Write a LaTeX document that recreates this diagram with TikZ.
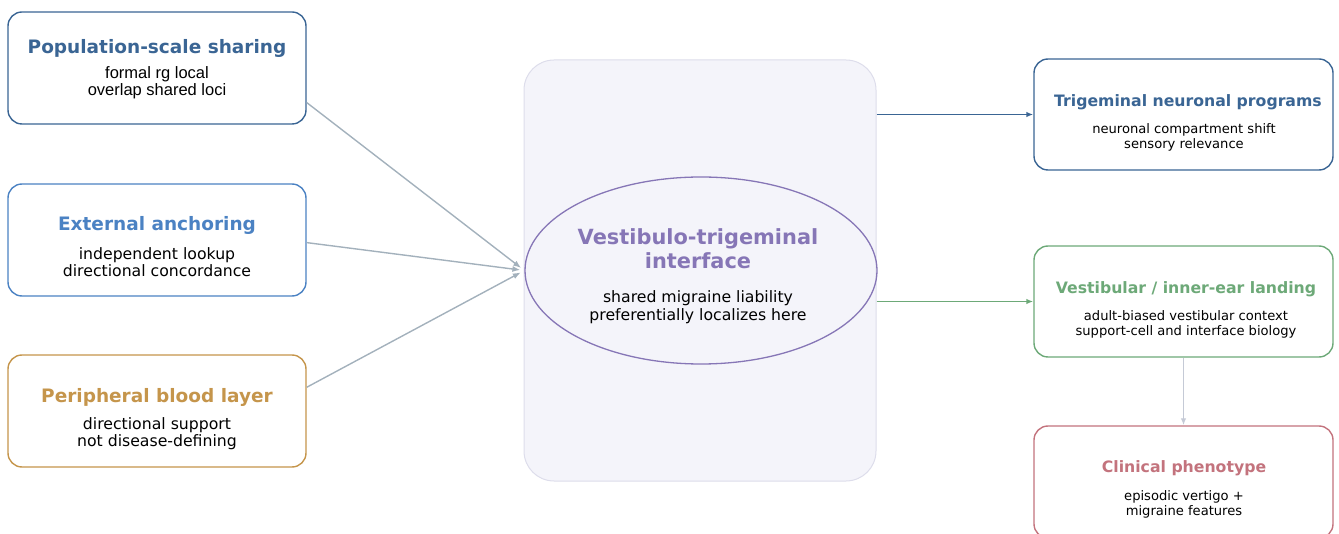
\documentclass[tikz,border=0pt]{standalone}
\usepackage{fontspec}
\setmainfont{DejaVu Sans}
\newfontfamily\arialfont{Liberation Sans}
\usetikzlibrary{arrows.meta,calc,positioning,shapes.geometric}
\definecolor{vtnavy}{HTML}{3A6594}
\definecolor{vtblue}{HTML}{4B82C3}
\definecolor{vtgold}{HTML}{C5954B}
\definecolor{vtpurple}{HTML}{8676B6}
\definecolor{vtgreen}{HTML}{6DA978}
\definecolor{vtred}{HTML}{C3737D}
\definecolor{vtfeed}{HTML}{A3B1BC}
\definecolor{vtdown}{HTML}{C5CAD6}
\definecolor{vtpanel}{HTML}{F4F4FA}
\definecolor{vtrim}{HTML}{DDDDEB}

\begin{document}
\begin{tikzpicture}[x=1pt,y=-1pt,
    card/.style={draw,rounded corners=14pt,line width=1.4pt,fill=white,
      minimum width=298pt,minimum height=112pt,inner sep=0pt},
    cardtitle/.style={font=\fontsize{18.5}{22}\selectfont\bfseries,inner sep=0pt},
    cardbody/.style={font=\fontsize{15.7}{17}\selectfont,align=center,inner sep=0pt},
    sidetitle/.style={font=\fontsize{15.7}{19}\selectfont\bfseries,inner sep=0pt},
    sidebody/.style={font=\fontsize{13.1}{15}\selectfont,align=center,inner sep=0pt},
    feed/.style={-{Latex[length=8pt,width=6pt]},line width=1.4pt,vtfeed,shorten >=4pt},
    outlink/.style={-{Latex[length=7pt,width=5.5pt]},line width=1.4pt}]
    \useasboundingbox (0,0) rectangle (1339,534);
    % left inputs
    \node[card,draw=vtnavy] (pop) at (157,68) {};
    \node[cardtitle,text=vtnavy] (popT) at (157,48) {Population-scale sharing};
    \node[cardbody,font=\fontsize{16.5}{17}\selectfont\arialfont] (popB) at (157,82.5) {formal rg local\\overlap shared loci};
    \node[card,draw=vtblue] (ext) at (157,240) {};
    \node[cardtitle,text=vtblue] (extT) at (157,225) {External anchoring};
    \node[cardbody] (extB) at (157,262.5) {independent lookup\\directional concordance};
    \node[card,draw=vtgold] (blood) at (157,411) {};
    \node[cardtitle,text=vtgold] (bloodT) at (157,397) {Peripheral blood layer};
    \node[cardbody] (bloodB) at (157,433.5) {directional support\\not disease-defining};
    % centre
    \node[draw=vtrim,fill=vtpanel,line width=1pt,rounded corners=30pt,
      minimum width=352pt,minimum height=421pt,inner sep=0pt] (panel) at (700,270.5) {};
    \node[ellipse,draw=vtpurple,line width=1.3pt,minimum width=352pt,minimum height=187pt,
      inner sep=0pt] (core) at (701,270.5) {};
    \node[font=\fontsize{20.9}{24}\selectfont\bfseries,text=vtpurple,align=center,inner sep=0pt]
      (coreT) at (698,249) {Vestibulo-trigeminal\\interface};
    \node[font=\fontsize{15.7}{18}\selectfont,align=center,inner sep=0pt]
      (coreB) at (698,307.5) {shared migraine liability\\preferentially localizes here};
    % right outputs
    \node[card,draw=vtnavy,minimum width=299pt,minimum height=111pt] (trig) at (1183.5,114.5) {};
    \node[sidetitle,text=vtnavy] (trigT) at (1188,102) {Trigeminal neuronal programs};
    \node[sidebody] (trigB) at (1184,137.5) {neuronal compartment shift\\sensory relevance};
    \node[card,draw=vtgreen,minimum width=299pt,minimum height=111pt] (vest) at (1183.5,301.5) {};
    \node[sidetitle,text=vtgreen] (vestT) at (1186,289) {Vestibular / inner-ear landing};
    \node[sidebody] (vestB) at (1186,324) {adult-biased vestibular context\\support-cell and interface biology};
    \node[card,draw=vtred,minimum width=299pt,minimum height=112pt] (clin) at (1183.5,482) {};
    \node[sidetitle,text=vtred] (clinT) at (1184,468) {Clinical phenotype};
    \node[sidebody] (clinB) at (1184,504) {episodic vertigo +\\migraine features};
    % connectors
    \draw[feed] (pop.-13.6) -- (core.west);
    \draw[feed] (ext.-1.9) -- (core.west);
    \draw[feed] (blood.9.9) -- (core.west);
    \draw[outlink,vtnavy] (panel.east |- trig.west) -- (trig.west);
    \draw[outlink,vtgreen] (panel.east |- vest.west) -- (vest.west);
    \draw[outlink,vtdown] (vest.south) -- (clin.north);
  \end{tikzpicture}
\end{document}
